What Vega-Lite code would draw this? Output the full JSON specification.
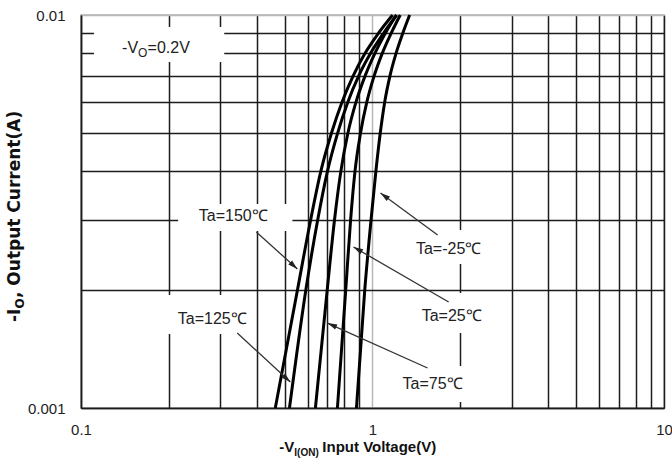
{
  "$schema": "https://vega.github.io/schema/vega-lite/v6.json",
  "width": 583,
  "height": 393,
  "autosize": {"type": "none"},
  "padding": {"left": 81, "top": 15, "right": 8, "bottom": 57},
  "background": "white",
  "config": {
    "view": {"stroke": "#b4b4b4", "strokeWidth": 1.5},
    "font": "Liberation Sans"
  },
  "resolve": {"axis": {"x": "independent", "y": "independent"}},
  "datasets": {
    "curves": [
      {"ta": "150", "v": 0.464, "i": 0.001}, {"ta": "150", "v": 0.553, "i": 0.002}, {"ta": "150", "v": 0.6129, "i": 0.003}, {"ta": "150", "v": 0.6648, "i": 0.004}, {"ta": "150", "v": 0.7229, "i": 0.005}, {"ta": "150", "v": 0.7857, "i": 0.006}, {"ta": "150", "v": 0.8585, "i": 0.007}, {"ta": "150", "v": 0.9439, "i": 0.008}, {"ta": "150", "v": 1.0495, "i": 0.009}, {"ta": "150", "v": 1.1725, "i": 0.01},
      {"ta": "125", "v": 0.519, "i": 0.001}, {"ta": "125", "v": 0.5909, "i": 0.002}, {"ta": "125", "v": 0.6481, "i": 0.003}, {"ta": "125", "v": 0.7005, "i": 0.004}, {"ta": "125", "v": 0.7588, "i": 0.005}, {"ta": "125", "v": 0.8225, "i": 0.006}, {"ta": "125", "v": 0.8967, "i": 0.007}, {"ta": "125", "v": 0.9858, "i": 0.008}, {"ta": "125", "v": 1.0926, "i": 0.009}, {"ta": "125", "v": 1.211, "i": 0.01},
      {"ta": "75", "v": 0.637, "i": 0.001}, {"ta": "75", "v": 0.6994, "i": 0.002}, {"ta": "75", "v": 0.7403, "i": 0.003}, {"ta": "75", "v": 0.7788, "i": 0.004}, {"ta": "75", "v": 0.8232, "i": 0.005}, {"ta": "75", "v": 0.8776, "i": 0.006}, {"ta": "75", "v": 0.9432, "i": 0.007}, {"ta": "75", "v": 1.02, "i": 0.008}, {"ta": "75", "v": 1.108, "i": 0.009}, {"ta": "75", "v": 1.207, "i": 0.01},
      {"ta": "25", "v": 0.758, "i": 0.001}, {"ta": "25", "v": 0.8095, "i": 0.002}, {"ta": "25", "v": 0.8409, "i": 0.003}, {"ta": "25", "v": 0.8708, "i": 0.004}, {"ta": "25", "v": 0.9095, "i": 0.005}, {"ta": "25", "v": 0.9559, "i": 0.006}, {"ta": "25", "v": 1.013, "i": 0.007}, {"ta": "25", "v": 1.081, "i": 0.008}, {"ta": "25", "v": 1.16, "i": 0.009}, {"ta": "25", "v": 1.245, "i": 0.01},
      {"ta": "-25", "v": 0.881, "i": 0.001}, {"ta": "-25", "v": 0.9408, "i": 0.002}, {"ta": "-25", "v": 0.9881, "i": 0.003}, {"ta": "-25", "v": 1.027, "i": 0.004}, {"ta": "-25", "v": 1.063, "i": 0.005}, {"ta": "-25", "v": 1.101, "i": 0.006}, {"ta": "-25", "v": 1.148, "i": 0.007}, {"ta": "-25", "v": 1.205, "i": 0.008}, {"ta": "-25", "v": 1.271, "i": 0.009}, {"ta": "-25", "v": 1.341, "i": 0.01}
    ],
    "boxes": [
      {"id": "vo", "x1": 0.1108, "x2": 0.31, "y1": 0.007594, "y2": 0.009322},
      {"id": "150", "x1": 0.2154, "x2": 0.5311, "y1": 0.002821, "y2": 0.003304},
      {"id": "125", "x1": 0.1869, "x2": 0.3869, "y1": 0.001543, "y2": 0.001939},
      {"id": "-25", "x1": 1.351, "x2": 2.544, "y1": 0.002325, "y2": 0.002838},
      {"id": "25", "x1": 1.373, "x2": 2.544, "y1": 0.001552, "y2": 0.001962},
      {"id": "75", "x1": 1.199, "x2": 2.172, "y1": 0.001036, "y2": 0.001279}
    ],
    "labels": [
      {"t": "Ta=150℃", "x": 0.3329, "y": 0.00308},
      {"t": "Ta=125℃", "x": 0.282, "y": 0.001685},
      {"t": "Ta=-25℃", "x": 1.825, "y": 0.002539},
      {"t": "Ta=25℃", "x": 1.869, "y": 0.001714},
      {"t": "Ta=75℃", "x": 1.608, "y": 0.001151}
    ],
    "arrows": [
      {"ta": "a150", "x1": 0.3994, "y1": 0.002804, "x2": 0.5525, "y2": 0.002258},
      {"ta": "a125", "x1": 0.3436, "y1": 0.001552, "x2": 0.5226, "y2": 0.001164},
      {"ta": "am25", "x1": 1.673, "y1": 0.002755, "x2": 1.065, "y2": 0.003524},
      {"ta": "a25", "x1": 1.825, "y1": 0.001861, "x2": 0.8605, "y2": 0.002569},
      {"ta": "a75", "x1": 1.545, "y1": 0.001264, "x2": 0.7005, "y2": 0.001645}
    ]
  },
  "layer": [
    {
      "data": {"name": "boxes"},
      "mark": {"type": "rect", "fill": "white", "stroke": null},
      "encoding": {
        "x": {"field": "x1", "type": "quantitative", "scale": {"type": "log", "domain": [0.1, 10], "nice": false}, "axis": null, "title": null},
        "x2": {"field": "x2"},
        "y": {"field": "y1", "type": "quantitative", "scale": {"type": "log", "domain": [0.001, 0.01], "nice": false}, "axis": null, "title": null},
        "y2": {"field": "y2"}
      }
    },
    {
      "data": {"name": "curves"},
      "mark": {"type": "line", "color": "black", "strokeWidth": 3, "interpolate": "monotone"},
      "encoding": {
        "x": {"field": "v", "type": "quantitative", "title": null,
          "scale": {"type": "log", "domain": [0.1, 10], "nice": false},
          "axis": {
            "values": [0.1, 0.2, 0.3, 0.4, 0.5, 0.6, 0.7, 0.8, 0.9, 1, 2, 3, 4, 5, 6, 7, 8, 9, 10],
            "labelExpr": "datum.value == 0.1 ? '0.1' : datum.value == 1 ? '1' : datum.value == 10 ? '10' : ''",
            "grid": true,
            "gridColor": {"condition": {"test": "datum.value == 1", "value": "#b8b8b8"}, "value": "#1c1c1c"},
            "gridWidth": 1.5,
            "ticks": false, "tickSize": 0,
            "domainColor": "#1c1c1c", "domainWidth": 1.5,
            "labelFont": "Liberation Sans", "labelFontSize": 15, "labelColor": "#222", "labelPadding": 14, "labelFlush": false, "labelOverlap": false
          }
        },
        "y": {"field": "i", "type": "quantitative", "title": null,
          "scale": {"type": "log", "domain": [0.001, 0.01], "nice": false},
          "axis": {
            "values": [0.001, 0.002, 0.003, 0.004, 0.005, 0.006, 0.007, 0.008, 0.009, 0.01],
            "labelExpr": "datum.value == 0.001 ? '0.001' : datum.value == 0.01 ? '0.01' : ''",
            "grid": true,
            "gridColor": {"condition": {"test": "datum.value > 0.0095", "value": "#b8b8b8"}, "value": "#1c1c1c"},
            "gridWidth": 1.5,
            "ticks": false, "tickSize": 0,
            "domainColor": "#1c1c1c", "domainWidth": 1.5,
            "labelFont": "Liberation Sans", "labelFontSize": 15, "labelColor": "#222", "labelPadding": 16, "labelOverlap": false
          }
        },
        "detail": {"field": "ta"},
        "order": {"field": "i"}
      }
    },
    {
      "data": {"name": "arrows"},
      "mark": {"type": "rule", "color": "#333", "strokeWidth": 1.3},
      "encoding": {
        "x": {"field": "x1", "type": "quantitative", "scale": {"type": "log", "domain": [0.1, 10], "nice": false}, "axis": null, "title": null},
        "x2": {"field": "x2"},
        "y": {"field": "y1", "type": "quantitative", "scale": {"type": "log", "domain": [0.001, 0.01], "nice": false}, "axis": null, "title": null},
        "y2": {"field": "y2"}
      }
    },
    {
      "data": {"name": "arrows"},
      "transform": [{"filter": {"field": "ta", "equal": "a150"}}],
      "mark": {"type": "point", "shape": "M0,0L0.5,1.7L-0.5,1.7Z", "filled": true, "fill": "#222", "stroke": null, "size": 130, "angle": 132, "opacity": 1},
      "encoding": {
        "x": {"field": "x2", "type": "quantitative", "scale": {"type": "log", "domain": [0.1, 10], "nice": false}, "axis": null, "title": null},
        "y": {"field": "y2", "type": "quantitative", "scale": {"type": "log", "domain": [0.001, 0.01], "nice": false}, "axis": null, "title": null}
      }
    },
    {
      "data": {"name": "arrows"},
      "transform": [{"filter": {"field": "ta", "equal": "a125"}}],
      "mark": {"type": "point", "shape": "M0,0L0.5,1.7L-0.5,1.7Z", "filled": true, "fill": "#222", "stroke": null, "size": 130, "angle": 133, "opacity": 1},
      "encoding": {
        "x": {"field": "x2", "type": "quantitative", "scale": {"type": "log", "domain": [0.1, 10], "nice": false}, "axis": null, "title": null},
        "y": {"field": "y2", "type": "quantitative", "scale": {"type": "log", "domain": [0.001, 0.01], "nice": false}, "axis": null, "title": null}
      }
    },
    {
      "data": {"name": "arrows"},
      "transform": [{"filter": {"field": "ta", "equal": "am25"}}],
      "mark": {"type": "point", "shape": "M0,0L0.5,1.7L-0.5,1.7Z", "filled": true, "fill": "#222", "stroke": null, "size": 130, "angle": 306, "opacity": 1},
      "encoding": {
        "x": {"field": "x2", "type": "quantitative", "scale": {"type": "log", "domain": [0.1, 10], "nice": false}, "axis": null, "title": null},
        "y": {"field": "y2", "type": "quantitative", "scale": {"type": "log", "domain": [0.001, 0.01], "nice": false}, "axis": null, "title": null}
      }
    },
    {
      "data": {"name": "arrows"},
      "transform": [{"filter": {"field": "ta", "equal": "a25"}}],
      "mark": {"type": "point", "shape": "M0,0L0.5,1.7L-0.5,1.7Z", "filled": true, "fill": "#222", "stroke": null, "size": 130, "angle": 300, "opacity": 1},
      "encoding": {
        "x": {"field": "x2", "type": "quantitative", "scale": {"type": "log", "domain": [0.1, 10], "nice": false}, "axis": null, "title": null},
        "y": {"field": "y2", "type": "quantitative", "scale": {"type": "log", "domain": [0.001, 0.01], "nice": false}, "axis": null, "title": null}
      }
    },
    {
      "data": {"name": "arrows"},
      "transform": [{"filter": {"field": "ta", "equal": "a75"}}],
      "mark": {"type": "point", "shape": "M0,0L0.5,1.7L-0.5,1.7Z", "filled": true, "fill": "#222", "stroke": null, "size": 130, "angle": 294, "opacity": 1},
      "encoding": {
        "x": {"field": "x2", "type": "quantitative", "scale": {"type": "log", "domain": [0.1, 10], "nice": false}, "axis": null, "title": null},
        "y": {"field": "y2", "type": "quantitative", "scale": {"type": "log", "domain": [0.001, 0.01], "nice": false}, "axis": null, "title": null}
      }
    },
    {
      "data": {"name": "labels"},
      "mark": {"type": "text", "font": "Liberation Sans", "fontSize": 16, "color": "#222", "align": "center", "baseline": "middle"},
      "encoding": {
        "x": {"field": "x", "type": "quantitative", "scale": {"type": "log", "domain": [0.1, 10], "nice": false}, "axis": null, "title": null},
        "y": {"field": "y", "type": "quantitative", "scale": {"type": "log", "domain": [0.001, 0.01], "nice": false}, "axis": null, "title": null},
        "text": {"field": "t"}
      }
    },
    {
      "data": {"values": [{"x": 0.1383, "y": 0.008, "t": "-V"}]},
      "mark": {"type": "text", "font": "Liberation Sans", "fontSize": 16, "color": "#222", "align": "left", "baseline": "alphabetic"},
      "encoding": {
        "x": {"field": "x", "type": "quantitative", "scale": {"type": "log", "domain": [0.1, 10], "nice": false}, "axis": null, "title": null},
        "y": {"field": "y", "type": "quantitative", "scale": {"type": "log", "domain": [0.001, 0.01], "nice": false}, "axis": null, "title": null},
        "text": {"field": "t"}
      }
    },
    {
      "data": {"values": [{"x": 0.1383, "y": 0.008, "t": "O"}]},
      "mark": {"type": "text", "font": "Liberation Sans", "fontSize": 12, "color": "#222", "align": "left", "baseline": "alphabetic", "dx": 16, "dy": 4},
      "encoding": {
        "x": {"field": "x", "type": "quantitative", "scale": {"type": "log", "domain": [0.1, 10], "nice": false}, "axis": null, "title": null},
        "y": {"field": "y", "type": "quantitative", "scale": {"type": "log", "domain": [0.001, 0.01], "nice": false}, "axis": null, "title": null},
        "text": {"field": "t"}
      }
    },
    {
      "data": {"values": [{"x": 0.1383, "y": 0.008, "t": "=0.2V"}]},
      "mark": {"type": "text", "font": "Liberation Sans", "fontSize": 16, "color": "#222", "align": "left", "baseline": "alphabetic", "dx": 25.5},
      "encoding": {
        "x": {"field": "x", "type": "quantitative", "scale": {"type": "log", "domain": [0.1, 10], "nice": false}, "axis": null, "title": null},
        "y": {"field": "y", "type": "quantitative", "scale": {"type": "log", "domain": [0.001, 0.01], "nice": false}, "axis": null, "title": null},
        "text": {"field": "t"}
      }
    },
    {
      "data": {"values": [{"x": 0.479, "y": 0.000773, "t": "-V"}]},
      "mark": {"type": "text", "font": "Liberation Sans", "fontSize": 15, "fontWeight": "bold", "color": "#111", "align": "left", "baseline": "alphabetic"},
      "encoding": {
        "x": {"field": "x", "type": "quantitative", "scale": {"type": "log", "domain": [0.1, 10], "nice": false}, "axis": null, "title": null},
        "y": {"field": "y", "type": "quantitative", "scale": {"type": "log", "domain": [0.001, 0.01], "nice": false}, "axis": null, "title": null},
        "text": {"field": "t"}
      }
    },
    {
      "data": {"values": [{"x": 0.479, "y": 0.000773, "t": "I(ON)"}]},
      "mark": {"type": "text", "font": "Liberation Sans", "fontSize": 10, "fontWeight": "bold", "color": "#111", "align": "left", "baseline": "alphabetic", "dx": 15, "dy": 4},
      "encoding": {
        "x": {"field": "x", "type": "quantitative", "scale": {"type": "log", "domain": [0.1, 10], "nice": false}, "axis": null, "title": null},
        "y": {"field": "y", "type": "quantitative", "scale": {"type": "log", "domain": [0.001, 0.01], "nice": false}, "axis": null, "title": null},
        "text": {"field": "t"}
      }
    },
    {
      "data": {"values": [{"x": 0.479, "y": 0.000773, "t": "Input Voltage(V)"}]},
      "mark": {"type": "text", "font": "Liberation Sans", "fontSize": 15, "fontWeight": "bold", "color": "#111", "align": "left", "baseline": "alphabetic", "dx": 43},
      "encoding": {
        "x": {"field": "x", "type": "quantitative", "scale": {"type": "log", "domain": [0.1, 10], "nice": false}, "axis": null, "title": null},
        "y": {"field": "y", "type": "quantitative", "scale": {"type": "log", "domain": [0.001, 0.01], "nice": false}, "axis": null, "title": null},
        "text": {"field": "t"}
      }
    },
    {
      "data": {"values": [{"x": 0.0617, "y": 0.001655, "t": "-I"}]},
      "mark": {"type": "text", "font": "DejaVu Sans", "fontSize": 17, "fontWeight": "bold", "color": "#111", "align": "left", "baseline": "alphabetic", "angle": 270},
      "encoding": {
        "x": {"field": "x", "type": "quantitative", "scale": {"type": "log", "domain": [0.1, 10], "nice": false}, "axis": null, "title": null},
        "y": {"field": "y", "type": "quantitative", "scale": {"type": "log", "domain": [0.001, 0.01], "nice": false}, "axis": null, "title": null},
        "text": {"field": "t"}
      }
    },
    {
      "data": {"values": [{"x": 0.0617, "y": 0.001655, "t": "O"}]},
      "mark": {"type": "text", "font": "DejaVu Sans", "fontSize": 12, "fontWeight": "bold", "color": "#111", "align": "left", "baseline": "alphabetic", "angle": 270, "dx": 13.6, "dy": 4},
      "encoding": {
        "x": {"field": "x", "type": "quantitative", "scale": {"type": "log", "domain": [0.1, 10], "nice": false}, "axis": null, "title": null},
        "y": {"field": "y", "type": "quantitative", "scale": {"type": "log", "domain": [0.001, 0.01], "nice": false}, "axis": null, "title": null},
        "text": {"field": "t"}
      }
    },
    {
      "data": {"values": [{"x": 0.0617, "y": 0.001655, "t": ", Output Current(A)"}]},
      "mark": {"type": "text", "font": "DejaVu Sans", "fontSize": 17, "fontWeight": "bold", "color": "#111", "align": "left", "baseline": "alphabetic", "angle": 270, "dx": 24},
      "encoding": {
        "x": {"field": "x", "type": "quantitative", "scale": {"type": "log", "domain": [0.1, 10], "nice": false}, "axis": null, "title": null},
        "y": {"field": "y", "type": "quantitative", "scale": {"type": "log", "domain": [0.001, 0.01], "nice": false}, "axis": null, "title": null},
        "text": {"field": "t"}
      }
    }
  ]
}
